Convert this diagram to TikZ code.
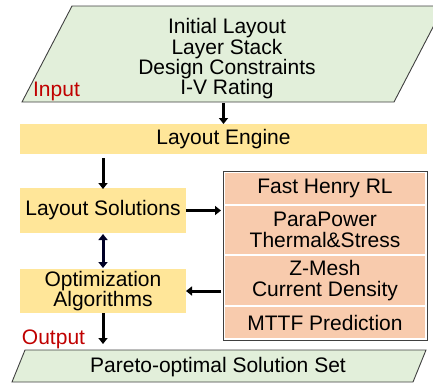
\documentclass[tikz,border=0pt]{standalone}
\usepackage{fontspec}
\setmainfont{Liberation Sans}
\usetikzlibrary{arrows.meta}
\definecolor{pgreen}{HTML}{E2EFDA}
\definecolor{pyellow}{HTML}{FFE699}
\definecolor{porange}{HTML}{F8CBAD}
\definecolor{pred}{HTML}{C00000}
\definecolor{pborder}{HTML}{404040}
\begin{document}
\begin{tikzpicture}[x=1pt,y=-1pt,
  every node/.style={inner sep=0pt,outer sep=0pt,font=\fontsize{21}{20.3}\selectfont,align=center},
  ybox/.style={fill=pyellow,minimum width=#1},
  obox/.style={fill=porange,minimum width=200pt},
  para/.style={fill=pgreen,draw=pborder,line width=0.9pt},
  redlbl/.style={text=pred},
  arr/.style={line width=3pt,-{Triangle[width=9pt,length=6pt]}},
  darr/.style={line width=3pt,{Triangle[width=9pt,length=6pt]}-{Triangle[width=9pt,length=6pt]},draw=black!85!blue}
]
\useasboundingbox (0,0) rectangle (433,384);
% input parallelogram
\path[para] (72,6) -- (444,6) -- (394,102) -- (22,102) -- cycle;
\node (intext) at (227,59) {Initial Layout\\Layer Stack\\Design Constraints\\I-V Rating};
\node[redlbl] (inlbl) at (56.5,91) {Input};
\coordinate (inbot) at (223.5,103);
% layout engine
\node[ybox=407pt,minimum height=30pt] (engine) at (223.5,139) {Layout Engine};
% layout solutions
\node[ybox=166pt,minimum height=45pt] (sol) at (103,210.5) {Layout Solutions};
% optimization
\node[ybox=166pt,minimum height=44pt] (opt) at (103,291) {Optimization\\Algorithms};
% analysis stack
\node[draw=pborder,line width=1pt,minimum width=204pt,minimum height=169pt] (stack) at (325,255.5) {};
\node[obox,minimum height=31pt] (fh) at (325,188.5) {Fast Henry RL};
\node[obox,minimum height=48pt] (pp) at (325,230) {ParaPower\\Thermal\&Stress};
\node[obox,minimum height=49pt] (zm) at (325,280.5) {Z-Mesh\\Current Density};
\node[obox,minimum height=31pt] (mt) at (325,322.5) {MTTF Prediction};
% output parallelogram
\path[para] (25,350) -- (426,350) -- (413,382) -- (12,382) -- cycle;
\node (pareto) at (218,367) {Pareto-optimal Solution Set};
\coordinate (partop) at (103,344);
\node[redlbl] (outlbl) at (53.5,339) {Output};
% connectors
\draw[arr] (inbot) -- (engine.north);
\draw[arr] ([yshift=-4pt]engine.south -| sol.north) -- ([yshift=-1pt]sol.north);
\draw[arr] (sol.east) -- ([xshift=-2pt]stack.west |- sol.east);
\draw[darr] ([yshift=-1pt]sol.south) -- ([yshift=1pt]opt.north);
\draw[arr] ([xshift=-2pt]stack.west |- opt.east) -- (opt.east);
\draw[arr] (opt.south) -- (partop);
\end{tikzpicture}
\end{document}
